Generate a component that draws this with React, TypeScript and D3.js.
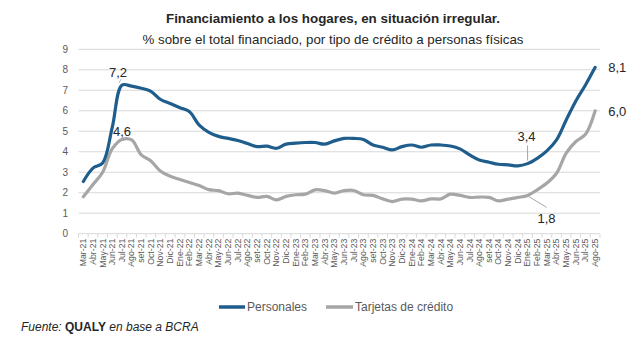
import React from "react";
import * as d3 from "d3";

const months = [
  "Mar-21","Abr-21","May-21","Jun-21","Jul-21","Ago-21","set-21","Oct-21","Nov-21","Dic-21",
  "Ene-22","Feb-22","Mar-22","Abr-22","May-22","Jun-22","Jul-22","Ago-22","set-22","Oct-22","Nov-22","Dic-22",
  "Ene-23","Feb-23","Mar-23","Abr-23","May-23","Jun-23","Jul-23","Ago-23","set-23","Oct-23","Nov-23","Dic-23",
  "Ene-24","Feb-24","Mar-24","Abr-24","May-24","Jun-24","Jul-24","Ago-24","set-24","Oct-24","Nov-24","Dic-24",
  "Ene-25","Feb-25","Mar-25","Abr-25","May-25","Jun-25","Jul-25","Ago-25",
];

const personales = [
  2.55, 3.2, 3.45, 5.2, 7.25, 7.2, 7.1, 6.95, 6.55, 6.35,
  6.15, 5.95, 5.3, 4.95, 4.75, 4.65, 4.55, 4.4, 4.25, 4.27, 4.17, 4.37,
  4.42, 4.45, 4.45, 4.37, 4.53, 4.65, 4.65, 4.6, 4.33, 4.22, 4.09, 4.25,
  4.33, 4.22, 4.33, 4.33, 4.28, 4.14, 3.85, 3.6, 3.49, 3.39, 3.36, 3.31,
  3.42, 3.68, 4.04, 4.58, 5.55, 6.48, 7.26, 8.12,
];

const tarjetas = [
  1.8, 2.4, 3.0, 4.15, 4.6, 4.58, 3.85, 3.55, 3.05, 2.8,
  2.65, 2.5, 2.35, 2.15, 2.1, 1.95, 1.98, 1.87, 1.77, 1.82, 1.65, 1.82,
  1.9, 1.93, 2.14, 2.1, 1.98, 2.1, 2.11, 1.9, 1.87, 1.7, 1.57, 1.69,
  1.69, 1.6, 1.7, 1.7, 1.93, 1.87, 1.77, 1.79, 1.77, 1.6, 1.69, 1.77,
  1.87, 2.14, 2.47, 2.95, 3.93, 4.5, 4.85, 6.0,
];

const yTicks = [0, 1, 2, 3, 4, 5, 6, 7, 8, 9];

const seriesNames = ["Personales", "Tarjetas de crédito"];
const seriesColors = ["#1f5d8c", "#a6a6a6"];

const title = "Financiamiento a los hogares, en situación irregular.";
const subtitle = "% sobre el total financiado, por tipo de crédito a personas físicas";

export default function App() {
  const W = 639;
  const H = 340;
  const x = d3.scaleBand<string>().domain(months).range([78.5, 600]).padding(0);
  const y = d3.scaleLinear().domain([0, 9]).range([233.7, 49.3]);
  const cx = (i: number) => (x(months[i]) as number) + x.bandwidth() / 2;

  const line = d3
    .line<number>()
    .x((_, i) => cx(i))
    .y((d) => y(d))
    .curve(d3.curveCatmullRom.alpha(0.5));

  const font = "'Liberation Sans', Arial, sans-serif";
  const labelColor = "#262626";
  const axisColor = "#595959";
  const grid = "#d9d9d9";

  const iPeak = 4;
  const iMin = 46;
  const iLast = months.length - 1;

  return (
    <svg
      width={W}
      height={H}
      style={{ position: "absolute", left: 0, top: 0, background: "#fff" }}
      fontFamily={font}
    >
      <text x={333} y={23} textAnchor="middle" fontSize={13} fontWeight="bold" fill="#262626" textLength={334} lengthAdjust="spacingAndGlyphs">
        {title}
      </text>
      <text x={333} y={44} textAnchor="middle" fontSize={13} fill="#262626" textLength={381} lengthAdjust="spacingAndGlyphs">
        {subtitle}
      </text>

      {yTicks.map((t) => (
        <g key={t}>
          <line x1={78.5} x2={600} y1={y(t)} y2={y(t)} stroke={grid} strokeWidth={1} />
          <text x={68} y={y(t) + 3.5} textAnchor="end" fontSize={10} fill={axisColor}>
            {t}
          </text>
        </g>
      ))}

      {months.map((m, i) => (
        <line
          key={"tk" + m}
          x1={x(m) as number}
          x2={x(m) as number}
          y1={y(0)}
          y2={y(0) + 4}
          stroke={grid}
        />
      ))}
      <line x1={600} x2={600} y1={y(0)} y2={y(0) + 4} stroke={grid} />

      {months.map((m, i) => (
        <text
          key={"xl" + m}
          transform={`translate(${cx(i)},${y(0) + 5}) rotate(-90)`}
          textAnchor="end"
          dy="0.33em"
          fontSize={8.7}
          fill={axisColor}
        >
          {m}
        </text>
      ))}

      <path d={line(tarjetas) || ""} fill="none" stroke={seriesColors[1]} strokeWidth={3.2} strokeLinejoin="round" strokeLinecap="round" />
      <path d={line(personales) || ""} fill="none" stroke={seriesColors[0]} strokeWidth={3.2} strokeLinejoin="round" strokeLinecap="round" />

      {/* data labels */}
      <line x1={cx(iPeak) - 1} y1={y(personales[iPeak]) - 6} x2={cx(iPeak) - 3} y2={y(personales[iPeak]) - 2} stroke="#a6a6a6" strokeWidth={0.8} />
      <text x={cx(iPeak) - 4} y={y(personales[iPeak]) - 8} textAnchor="middle" fontSize={13} fill={labelColor}>7,2</text>
      <text x={cx(iPeak)} y={y(tarjetas[iPeak]) - 3} textAnchor="middle" fontSize={13} fill={labelColor}>4,6</text>

      <line x1={cx(iMin)} y1={y(personales[iMin]) - 3} x2={cx(iMin)} y2={y(personales[iMin]) - 18} stroke="#a6a6a6" strokeWidth={1} />
      <text x={cx(iMin) - 1} y={y(personales[iMin]) - 23} textAnchor="middle" fontSize={13} fill={labelColor}>3,4</text>

      <line x1={cx(iMin) + 1} y1={y(tarjetas[iMin]) + 1} x2={cx(iMin) + 19} y2={y(tarjetas[iMin]) + 12} stroke="#a6a6a6" strokeWidth={1} />
      <text x={cx(iMin) + 19} y={y(tarjetas[iMin]) + 28} textAnchor="middle" fontSize={13} fill={labelColor}>1,8</text>

      <text x={cx(iLast) + 13} y={y(personales[iLast]) + 5} fontSize={13} fill={labelColor}>8,1</text>
      <text x={cx(iLast) + 13} y={y(tarjetas[iLast]) + 5} fontSize={13} fill={labelColor}>6,0</text>

      {/* legend */}
      <line x1={219} x2={245} y1={307} y2={307} stroke={seriesColors[0]} strokeWidth={3.5} />
      <text x={247} y={311} fontSize={12} fill={axisColor}>{seriesNames[0]}</text>
      <line x1={326} x2={353} y1={307} y2={307} stroke={seriesColors[1]} strokeWidth={3.5} />
      <text x={355} y={311} fontSize={12} fill={axisColor}>{seriesNames[1]}</text>

      <text x={21} y={331} fontSize={12} fontStyle="italic" fill="#262626">
        Fuente: <tspan fontWeight="bold" fontStyle="normal">QUALY</tspan> en base a BCRA
      </text>
    </svg>
  );
}
